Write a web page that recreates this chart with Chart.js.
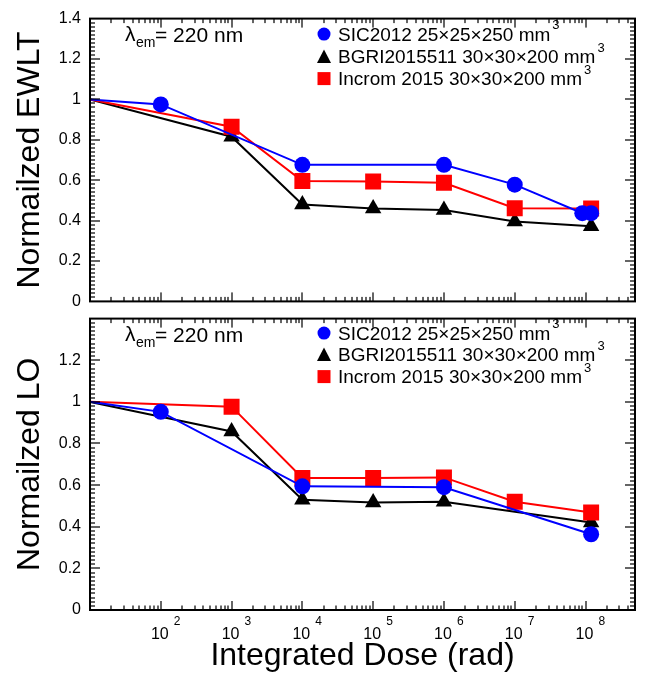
<!DOCTYPE html>
<html>
<head>
<meta charset="utf-8">
<script src="https://cdn.jsdelivr.net/npm/chart.js@4/dist/chart.umd.min.js"></script>
<style>
html, body { margin: 0; padding: 0; background: #fff; }
#wrap { position: relative; width: 650px; height: 676px; background: #fff; overflow: hidden; }
canvas { position: absolute; left: 0; }
#c1 { top: 0; }
#c2 { top: 300px; }
</style>
</head>
<body>
<div id="wrap">
  <canvas id="c1" width="650" height="320"></canvas>
  <canvas id="c2" width="650" height="376"></canvas>
</div>
<script>
// ---------- data ----------
const seriesNames = ['SIC2012 25×25×250 mm', 'BGRI2015511 30×30×200 mm', 'Incrom 2015 30×30×200 mm'];
const seriesUnitSup = '3';

// Top panel: Normalized EWLT
const sicDoseEWLT    = [10, 1e2, 1e4, 1e6, 1e7, 9e7, 1.2e8];
const sicEWLT        = [1, 0.975, 0.676, 0.676, 0.578, 0.437, 0.437];
const bgriDoseEWLT   = [10, 1e3, 1e4, 1e5, 1e6, 1e7, 1.2e8];
const bgriEWLT       = [1, 0.815, 0.48, 0.46, 0.452, 0.395, 0.372];
const incromDoseEWLT = [10, 1e3, 1e4, 1e5, 1e6, 1e7, 1.2e8];
const incromEWLT     = [1, 0.865, 0.596, 0.594, 0.587, 0.461, 0.46];

// Bottom panel: Normalized LO
const sicDoseLO      = [10, 1e2, 1e4, 1e6, 1.2e8];
const sicLO          = [1, 0.952, 0.594, 0.59, 0.364];
const bgriDoseLO     = [10, 1e3, 1e4, 1e5, 1e6, 1.2e8];
const bgriLO         = [1, 0.858, 0.53, 0.516, 0.52, 0.42];
const incromDoseLO   = [10, 1e3, 1e4, 1e5, 1e6, 1e7, 1.2e8];
const incromLO       = [1, 0.977, 0.634, 0.634, 0.637, 0.52, 0.468];

const xTickPowers = [2, 3, 4, 5, 6, 7, 8];
const yTickStep = 0.2;

// ---------- styles ----------
const FONT = "'Liberation Sans', Arial, Helvetica, sans-serif";
const styles = [
  { color: '#0000ff', pointStyle: 'circle',   radius: 8,    order: 0 },
  { color: '#000000', pointStyle: 'triangle', radius: 9.5,  order: 2 },
  { color: '#ff0000', pointStyle: 'rect',     radius: 11.3, order: 1 }
];

function pts(xs, ys) { return xs.map((d, i) => ({ x: d, y: ys[i] })); }

function makeSet(i, xs, ys) {
  const s = styles[i];
  const r = (ctx) => ctx.dataIndex === 0 ? 0 : s.radius;
  return {
    label: seriesNames[i],
    data: pts(xs, ys),
    borderColor: s.color,
    backgroundColor: s.color,
    pointBackgroundColor: s.color,
    pointBorderColor: s.color,
    pointBorderWidth: 0,
    borderWidth: 2,
    pointStyle: s.pointStyle,
    pointRadius: r,
    pointHoverRadius: r,
    order: s.order,
    tension: 0
  };
}

const decor = {
  id: 'decor',
  afterDraw(chart, args, o) {
    const ctx = chart.ctx;
    const a = chart.chartArea;
    const xs = chart.scales.x;
    const ys = chart.scales.y;
    ctx.save();
    ctx.globalAlpha = 1;
    ctx.fillStyle = '#000';
    // inward tick marks on all four sides
    for (let p = 1; p <= 8; p++) {
      for (let k = 1; k <= 9; k++) {
        const v = k * Math.pow(10, p);
        if (v <= 10 || v >= 5e8) continue;
        const px = Math.round(xs.getPixelForValue(v));
        const len = k === 1 ? 9 : 4.5;
        ctx.fillRect(px - 0.6, a.bottom - len, 1.2, len);
        ctx.fillRect(px - 0.6, a.top, 1.2, len);
      }
    }
    for (let i = 1; i < 70; i++) {
      const v = i * 0.02;
      const py = Math.round(ys.getPixelForValue(v));
      const len = i % 10 === 0 ? 10 : 5;
      ctx.fillRect(a.left, py - 0.6, len, 1.2);
      ctx.fillRect(a.right - len, py - 0.6, len, 1.2);
    }
    ctx.strokeStyle = '#000';
    ctx.setLineDash([]);
    ctx.lineWidth = 2;
    ctx.strokeRect(a.left, a.top, a.right - a.left, a.bottom - a.top);

    ctx.fillStyle = '#000';
    ctx.textBaseline = 'alphabetic';
    ctx.textAlign = 'left';

    // lambda annotation
    ctx.font = `21px ${FONT}`;
    ctx.fillText('λ', 125, a.top + 22);
    ctx.font = `14px ${FONT}`;
    ctx.fillText('em', 136, a.top + 28);
    ctx.font = `21px ${FONT}`;
    ctx.fillText('= 220 nm', 155, a.top + 23);

    // legend
    o.rows.forEach((dy, i) => {
      const cy = a.top + dy;
      const s = styles[i];
      const mx = 324;
      ctx.fillStyle = s.color;
      ctx.beginPath();
      if (s.pointStyle === 'circle') {
        ctx.arc(mx, cy, 6.5, 0, Math.PI * 2);
      } else if (s.pointStyle === 'triangle') {
        ctx.moveTo(mx, cy - 7); ctx.lineTo(mx + 7, cy + 6.5); ctx.lineTo(mx - 7, cy + 6.5); ctx.closePath();
      } else {
        ctx.rect(mx - 6.5, cy - 6.5, 13, 13);
      }
      ctx.fill();
      ctx.fillStyle = '#000';
      ctx.font = `19px ${FONT}`;
      ctx.fillText(seriesNames[i], 338, cy + 6.8);
      const w = ctx.measureText(seriesNames[i]).width;
      ctx.font = `13px ${FONT}`;
      ctx.fillText(seriesUnitSup, 338 + w + 2, cy - 5);
    });

    // x tick labels (bottom panel only)
    if (o.xLabels) {
      xTickPowers.forEach(p => {
        const px = xs.getPixelForValue(Math.pow(10, p));
        ctx.font = `16px ${FONT}`;
        ctx.textAlign = 'center';
        ctx.fillText('10', px - 1, a.bottom + 29);
        ctx.font = `12px ${FONT}`;
        ctx.textAlign = 'left';
        ctx.fillText(String(p), px + 13, a.bottom + 15);
      });
    }
    ctx.restore();
  }
};

function makeChart(id, sets, yTitle, opt) {
  return new Chart(document.getElementById(id), {
    type: 'line',
    data: { datasets: sets },
    plugins: [decor],
    options: {
      responsive: false,
      animation: false,
      events: [],
      layout: { padding: opt.padding },
      plugins: {
        legend: { display: false },
        tooltip: { enabled: false },
        decor: { rows: opt.rows, xLabels: opt.xLabels }
      },
      scales: {
        x: {
          type: 'logarithmic',
          min: 10,
          max: 5e8,
          display: opt.xLabels,
          grid: { display: false, drawTicks: false },
          border: { display: false },
          ticks: { display: false },
          title: {
            display: opt.xLabels,
            text: 'Integrated Dose (rad)',
            color: '#000',
            font: { family: FONT, size: 32, lineHeight: 1 },
            padding: { top: 0, bottom: 4 }
          },
          afterFit: (s) => { if (opt.xLabels) s.height = 66; }
        },
        y: {
          min: 0,
          max: 1.4,
          grid: { display: false, drawTicks: false },
          border: { display: false },
          ticks: {
            stepSize: yTickStep,
            padding: 9,
            color: '#000',
            font: { family: FONT, size: 16 },
            callback: (v) => {
              const r = Math.round(v * 10) / 10;
              if (opt.hideTop && r === 1.4) return '';
              return String(r);
            }
          },
          title: {
            display: true,
            text: yTitle,
            color: '#000',
            font: { family: FONT, size: 32, lineHeight: 1 },
            padding: { top: 14, bottom: 0 }
          },
          afterFit: (s) => { s.width = 90; }
        }
      }
    }
  });
}

makeChart('c1', [
  makeSet(0, sicDoseEWLT, sicEWLT),
  makeSet(1, bgriDoseEWLT, bgriEWLT),
  makeSet(2, incromDoseEWLT, incromEWLT)
], 'Normailzed EWLT', {
  padding: { top: 9, right: 15, bottom: 10, left: 0 },
  rows: [15.5, 38, 60],
  xLabels: false,
  hideTop: false
});

makeChart('c2', [
  makeSet(0, sicDoseLO, sicLO),
  makeSet(1, bgriDoseLO, bgriLO),
  makeSet(2, incromDoseLO, incromLO)
], 'Normailzed LO', {
  padding: { top: 10, right: 15, bottom: 0, left: 0 },
  rows: [14.5, 36, 58],
  xLabels: true,
  hideTop: true
});
</script>
</body>
</html>
